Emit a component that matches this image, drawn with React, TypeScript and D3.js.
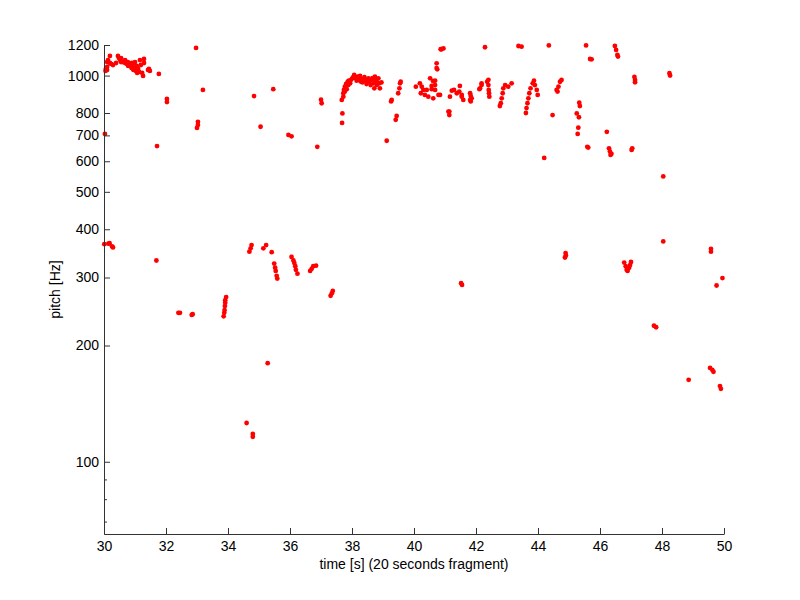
import React, { useEffect, useRef } from 'react';
import * as d3 from 'd3';

type Pt = [number, number]; // [time s, pitch Hz]

// upper-left cluster around 1 kHz
const upperLeft: Pt[] = [
  [30.05, 1028], [30.06, 1040], [30.10, 1034], [30.10, 1053], [30.10, 1084], [30.13, 1097], [30.19, 1078],
  [30.19, 1124], [30.23, 1072], [30.29, 1065], [30.39, 1078], [30.45, 1124], [30.48, 1110], [30.52, 1097],
  [30.55, 1110], [30.55, 1084], [30.61, 1084], [30.68, 1078], [30.68, 1097], [30.74, 1072], [30.77, 1084],
  [30.78, 1059], [30.84, 1065], [30.89, 1046], [30.90, 1078], [30.90, 1053], [30.94, 1072], [30.95, 1034],
  [31.00, 1084], [31.00, 1046], [31.03, 1028], [31.06, 1059], [31.07, 1016], [31.10, 1040], [31.13, 1022],
  [31.16, 1097], [31.19, 1065], [31.23, 1016], [31.26, 998], [31.29, 1104], [31.29, 1078], [31.42, 1034],
  [31.45, 1040], [31.48, 1028],
  [30.03, 706], [31.77, 1010], [32.03, 870], [32.03, 854], [31.71, 657], [32.97, 1179], [33.19, 918],
  [33.03, 759], [33.03, 745], [33.00, 732],
];

const lowerLeft: Pt[] = [
  [30.01, 366], [30.14, 367], [30.18, 368], [30.26, 361], [30.29, 359], [31.69, 332],
  [32.40, 243], [32.45, 243], [32.83, 240], [32.86, 241],
  [33.86, 238], [33.88, 243], [33.89, 247], [33.90, 253], [33.91, 258], [33.91, 262], [33.94, 267],
];

const middleLow: Pt[] = [
  [34.69, 350], [34.73, 357], [34.76, 364], [35.14, 357], [35.23, 364], [35.41, 349],
  [35.49, 326], [35.52, 318], [35.54, 312], [35.57, 303], [35.59, 298],
  [36.05, 339], [36.11, 332], [36.14, 327], [36.17, 321], [36.19, 314], [36.24, 307],
  [36.65, 312], [36.70, 316], [36.75, 321], [36.84, 322],
  [37.31, 269], [37.35, 273], [37.38, 277],
  [35.28, 180], [34.60, 126], [34.80, 118], [34.80, 116],
  [41.52, 290], [41.55, 287],
];

const middleHigh: Pt[] = [
  [34.84, 885], [35.46, 922], [35.05, 737], [35.95, 702], [36.05, 696], [36.88, 654],
  [37.00, 866], [37.02, 848], [37.67, 865], [37.69, 798], [37.68, 754],
];

const rise38: Pt[] = [
  [37.72, 882], [37.72, 900], [37.74, 918], [37.77, 909], [37.77, 936], [37.81, 951], [37.83, 922],
  [37.86, 964], [37.88, 945], [37.90, 970], [37.94, 955], [37.97, 975], [38.01, 984], [38.04, 990],
  [38.07, 1004], [38.12, 984], [38.15, 970], [38.18, 993], [38.23, 975], [38.26, 998], [38.28, 965],
  [38.31, 979], [38.34, 960], [38.40, 990], [38.44, 970], [38.47, 951], [38.50, 970], [38.53, 984],
  [38.56, 964], [38.60, 945], [38.64, 975], [38.66, 985], [38.69, 955], [38.72, 927], [38.74, 993],
  [38.77, 970], [38.80, 945], [38.82, 960], [38.85, 984], [38.88, 955], [38.90, 927], [38.95, 960],
];

const around40: Pt[] = [
  [39.12, 678], [39.28, 865], [39.26, 857], [39.41, 768], [39.44, 786], [39.49, 900], [39.53, 927],
  [39.55, 955], [39.57, 964],
  [40.06, 936], [40.19, 955], [40.25, 936], [40.22, 900], [40.30, 918], [40.35, 891], [40.41, 918],
  [40.46, 882], [40.52, 984], [40.57, 922], [40.57, 940], [40.62, 873], [40.62, 967], [40.68, 945],
  [40.68, 970], [40.68, 918], [40.73, 1076], [40.75, 1038], [40.73, 1046], [40.84, 891], [40.79, 891],
  [40.86, 1170], [40.95, 1176], [40.89, 1170], [41.14, 807], [41.14, 790], [41.11, 807], [41.16, 882],
  [41.22, 914], [41.29, 918], [41.38, 900], [41.48, 940], [41.46, 909], [41.54, 891], [41.54, 882],
  [41.59, 865],
];

const around43: Pt[] = [
  [41.81, 865], [41.83, 886], [41.81, 900], [41.86, 873], [41.83, 857], [42.11, 922], [42.18, 945],
  [42.13, 927], [42.18, 955], [42.29, 1184], [42.36, 964], [42.40, 975], [42.40, 945], [42.41, 918],
  [42.42, 900], [42.43, 882],
  [42.77, 834], [42.80, 848], [42.83, 873], [42.86, 900], [42.88, 927], [42.94, 945], [43.04, 936],
  [43.15, 955], [43.37, 1193], [43.47, 1188], [44.35, 1197],
  [43.61, 800], [43.63, 824], [43.66, 848], [43.69, 873], [43.72, 900], [43.76, 927], [43.83, 955],
  [43.87, 970], [43.90, 945], [43.96, 918], [43.99, 891],
  [44.47, 790], [44.60, 918], [44.63, 909], [44.66, 936], [44.71, 964], [44.76, 974], [44.20, 612],
];

const rightHigh: Pt[] = [
  [45.55, 1197], [46.48, 1193], [46.52, 1165], [46.56, 1131], [46.58, 1120], [45.68, 1104], [45.73, 1102],
  [47.11, 992], [47.13, 974], [47.13, 961], [48.24, 1014], [48.26, 1000],
  [45.33, 851], [45.35, 834], [45.25, 798], [45.32, 780], [45.30, 733], [45.28, 706], [46.22, 715],
  [45.59, 654], [45.62, 651], [46.29, 648], [46.32, 636], [46.34, 623], [46.37, 627],
  [47.02, 642], [47.04, 648], [48.04, 548],
];

const rightLow: Pt[] = [
  [48.04, 372], [44.89, 347], [44.87, 338], [44.90, 342],
  [46.78, 328], [46.83, 321], [46.86, 314], [46.89, 312], [46.94, 318], [46.97, 323], [47.00, 329],
  [49.58, 356], [49.58, 350], [49.95, 299], [49.76, 286], [47.74, 225], [47.81, 223],
  [49.55, 175], [49.62, 173], [49.66, 171], [48.86, 163], [49.87, 157], [49.90, 154.5],
];

const xTicks = [30, 32, 34, 36, 38, 40, 42, 44, 46, 48, 50];
const yTicks = [100, 200, 300, 400, 500, 600, 700, 800, 1000, 1200];
const yMinorTicks = [70, 80, 90];

const W = 800;
const H = 600;
const FONT = '"Liberation Sans", Arial, Helvetica, sans-serif';

const App: React.FC = () => {
  const svgRef = useRef<SVGSVGElement>(null);

  useEffect(() => {
    if (!svgRef.current) return;
    const svg = d3.select(svgRef.current);
    svg.selectAll('*').remove();

    const margin = { top: 45, right: 76, bottom: 66, left: 104 };
    const width = W - margin.left - margin.right;
    const height = H - margin.top - margin.bottom;

    const chart = svg.append('g')
      .attr('transform', `translate(${margin.left}, ${margin.top})`);

    const x = d3.scaleLinear().domain([30, 50]).range([0, width]);
    const y = d3.scaleLog().domain([65, 1200]).range([height, 0]);

    const points = [
      ...upperLeft, ...lowerLeft, ...middleLow, ...middleHigh, ...rise38,
      ...around40, ...around43, ...rightHigh, ...rightLow,
    ];

    chart.selectAll('.pt')
      .data(points)
      .enter()
      .append('circle')
      .attr('class', 'pt')
      .attr('cx', d => x(d[0]))
      .attr('cy', d => y(d[1]))
      .attr('r', 2.4)
      .attr('fill', '#f00');

    // Axes (ticks point inward, MATLAB style)
    const xAxis = d3.axisBottom(x)
      .tickValues(xTicks)
      .tickFormat(d => String(d))
      .tickSizeInner(-6)
      .tickSizeOuter(0)
      .tickPadding(7);

    const yAxis = d3.axisLeft(y)
      .tickValues(yTicks)
      .tickFormat(d => String(d))
      .tickSizeInner(-6)
      .tickSizeOuter(0)
      .tickPadding(5);

    const yMinor = d3.axisLeft(y)
      .tickValues(yMinorTicks)
      .tickFormat(() => '')
      .tickSizeInner(-3)
      .tickSizeOuter(0);

    const styleAxis = (g: d3.Selection<SVGGElement, unknown, null, undefined>) => {
      g.select('.domain').attr('stroke', '#333');
      g.selectAll('.tick line').attr('stroke', '#333');
      g.selectAll('.tick text')
        .attr('fill', '#000')
        .style('font-family', FONT)
        .style('font-size', '14px');
    };

    chart.append('g')
      .attr('transform', `translate(0, ${height})`)
      .call(xAxis)
      .call(styleAxis);

    chart.append('g').call(yAxis).call(styleAxis);
    chart.append('g').call(yMinor).call(styleAxis);

    // Axis titles
    svg.append('text')
      .attr('x', margin.left + width / 2)
      .attr('y', 569)
      .attr('text-anchor', 'middle')
      .style('font-family', FONT)
      .style('font-size', '14px')
      .attr('fill', '#000')
      .text('time [s] (20 seconds fragment)');

    svg.append('text')
      .attr('transform', `translate(60, ${margin.top + height / 2}) rotate(-90)`)
      .attr('text-anchor', 'middle')
      .style('font-family', FONT)
      .style('font-size', '14px')
      .attr('fill', '#000')
      .text('pitch [Hz]');
  }, []);

  return (
    <div style={{ position: 'absolute', left: 0, top: 0, background: '#fff' }}>
      <svg ref={svgRef} width={W} height={H} style={{ display: 'block' }} />
    </div>
  );
};

export default App;
